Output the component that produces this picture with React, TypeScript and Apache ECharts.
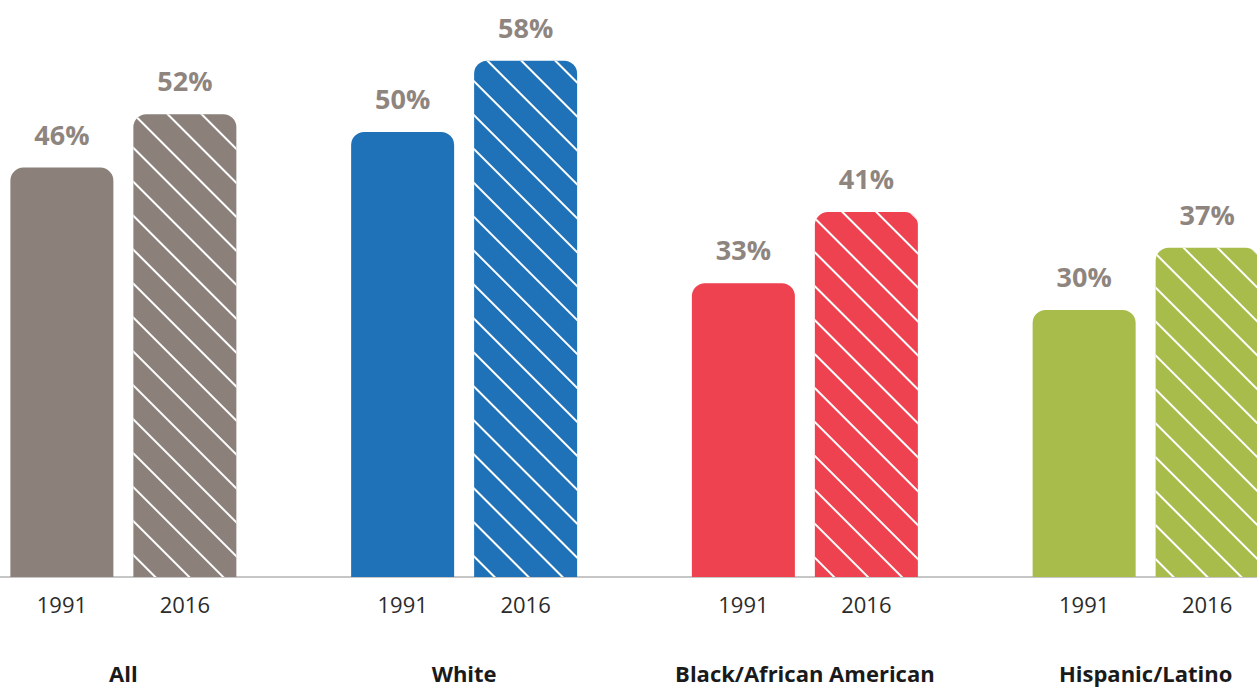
import React, { useEffect, useRef } from "react";
import * as echarts from "echarts";

const groups = ["All", "White", "Black/African American", "Hispanic/Latino"];
const values1991 = [46, 50, 33, 30];
const values2016 = [52, 58, 41, 37];
const yearLabels = ["1991", "2016"];
const groupColors = ["#8b807a", "#1f72b8", "#ee4250", "#a8bc4c"];

export default function App() {
  const ref = useRef<HTMLDivElement>(null);
  useEffect(() => {
    if (!ref.current) return;
    const chart = echarts.init(ref.current, undefined, { renderer: "svg" });
    const font = "'Open Sans', Lato, sans-serif";
    const barWidth = 103;
    const barGap = "19.4%";
    const decal = {
      symbol: "rect",
      symbolSize: 1,
      color: "#ffffff",
      dashArrayX: [1, 0],
      dashArrayY: [2, 22],
      rotation: Math.PI / 4,
    };
    const pctLabel = {
      show: true,
      position: "top",
      distance: 20,
      formatter: "{c}%",
      color: "#8f857f",
      fontFamily: font,
      fontWeight: "bold",
      fontSize: 27,
    };
    const yearLabel = (txt: string) => ({
      show: true,
      position: "bottom",
      distance: 16,
      formatter: txt,
      color: "#2b2b2b",
      fontFamily: font,
      fontSize: 22,
    });
    const zeros = groups.map(() => 0);
    chart.setOption({
      animation: false,
      grid: { left: 0, right: 0, top: 43, bottom: 111, containLabel: false },
      xAxis: {
        type: "category",
        data: groups,
        axisLine: { show: true, lineStyle: { color: "#c6c6c6", width: 2 } },
        axisTick: { show: false },
        axisLabel: {
          margin: 85,
          color: "#1a1a1a",
          fontFamily: font,
          fontWeight: "bold",
          fontSize: 22,
          interval: 0,
        },
      },
      yAxis: {
        type: "value",
        min: 0,
        max: 60,
        show: false,
        splitLine: { show: false },
      },
      series: [
        {
          name: "y1991-label",
          type: "bar",
          stack: "a",
          data: zeros,
          barWidth,
          barGap,
          itemStyle: { color: "transparent" },
          label: yearLabel(yearLabels[0]),
          silent: true,
        },
        {
          name: yearLabels[0],
          type: "bar",
          stack: "a",
          barWidth,
          barGap,
          data: values1991.map((v, i) => ({
            value: v,
            itemStyle: { color: groupColors[i], borderRadius: [13, 13, 0, 0] },
          })),
          label: pctLabel,
        },
        {
          name: "y2016-label",
          type: "bar",
          stack: "b",
          data: zeros,
          barWidth,
          barGap,
          itemStyle: { color: "transparent" },
          label: yearLabel(yearLabels[1]),
          silent: true,
        },
        {
          name: yearLabels[1],
          type: "bar",
          stack: "b",
          barWidth,
          barGap,
          data: values2016.map((v, i) => ({
            value: v,
            itemStyle: { color: groupColors[i], borderRadius: [13, 13, 0, 0], decal },
          })),
          label: pctLabel,
        },
      ],
    });
    return () => chart.dispose();
  }, []);
  return (
    <div
      ref={ref}
      style={{ position: "fixed", left: -47.3, top: 0, width: 1362.7, height: 688, background: "#fff" }}
    />
  );
}
